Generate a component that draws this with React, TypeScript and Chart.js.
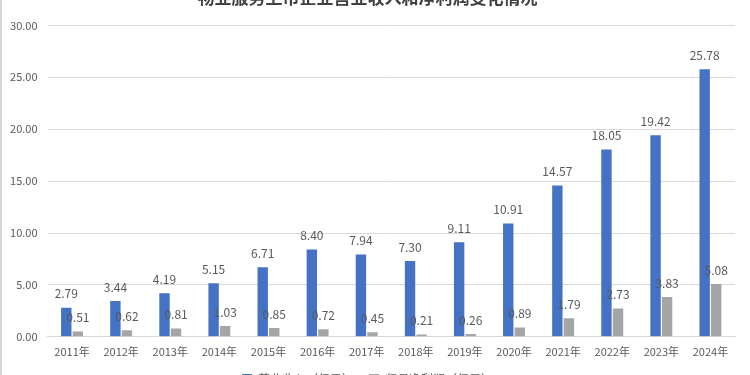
import React, { useEffect, useRef } from "react";
import { Chart, registerables } from "chart.js";

Chart.register(...registerables);

const years = [
  "2011年", "2012年", "2013年", "2014年", "2015年", "2016年", "2017年",
  "2018年", "2019年", "2020年", "2021年", "2022年", "2023年", "2024年",
];
const revenue = [2.79, 3.44, 4.19, 5.15, 6.71, 8.4, 7.94, 7.3, 9.11, 10.91, 14.57, 18.05, 19.42, 25.78];
const profit = [0.51, 0.62, 0.81, 1.03, 0.85, 0.72, 0.45, 0.21, 0.26, 0.89, 1.79, 2.73, 3.83, 5.08];
const yMin = 0;
const yMax = 30;
const yStep = 5;
const titleText = "物业服务上市企业营业收入和净利润变化情况";
const seriesNames = ["营业收入（亿元）", "归母净利润（亿元）"];

const FONT = "'Noto Sans CJK SC', 'Noto Sans', sans-serif";
const TEXT = "#595959";
const H = 424;

const valueLabels = {
  id: "valueLabels",
  afterDatasetsDraw(chart: any) {
    const ctx = chart.ctx;
    ctx.save();
    ctx.font = `12px ${FONT}`;
    ctx.fillStyle = TEXT;
    ctx.textAlign = "center";
    ctx.textBaseline = "middle";
    chart.data.datasets.forEach((ds: any, i: number) => {
      const meta = chart.getDatasetMeta(i);
      meta.data.forEach((el: any, j: number) => {
        const v = ds.data[j] as number;
        ctx.fillText(v.toFixed(2), el.x, el.y - 14);
      });
    });
    ctx.restore();
  },
};

export default function App() {
  const ref = useRef<HTMLCanvasElement | null>(null);
  useEffect(() => {
    if (!ref.current) return;
    const chart = new Chart(ref.current, {
      type: "bar",
      data: {
        labels: years,
        datasets: [
          {
            label: seriesNames[0],
            data: revenue,
            backgroundColor: "#4472C4",
            categoryPercentage: 0.47,
            barPercentage: 0.9,
          },
          {
            label: seriesNames[1],
            data: profit,
            backgroundColor: "#A5A5A5",
            categoryPercentage: 0.47,
            barPercentage: 0.9,
          },
        ],
      },
      options: {
        responsive: false,
        animation: false,
        devicePixelRatio: 1,
        layout: { padding: { left: 0, right: 15, top: 6, bottom: 2 } },
        plugins: {
          title: {
            display: true,
            text: titleText,
            color: "#404040",
            font: { family: FONT, size: 17, weight: "bold" },
            padding: { top: 8, bottom: 18 },
          },
          legend: {
            display: true,
            position: "bottom",
            labels: {
              color: TEXT,
              font: { family: FONT, size: 12 },
              boxWidth: 10,
              boxHeight: 10,
              padding: 15,
            },
          },
          tooltip: { enabled: false },
        },
        scales: {
          x: {
            grid: { display: false },
            border: { display: true, color: "#D9D9D9" },
            ticks: {
              color: TEXT,
              font: { family: FONT, size: 11 },
              padding: 0,
              maxRotation: 0,
              autoSkip: false,
            },
          },
          y: {
            min: yMin,
            max: yMax,
            grid: { color: "#D9D9D9", drawTicks: false },
            border: { display: false },
            ticks: {
              stepSize: yStep,
              color: TEXT,
              font: { family: FONT, size: 11 },
              padding: 10,
              callback: (v: any) => Number(v).toFixed(2),
            },
            afterFit: (scale: any) => {
              scale.width = 47.5;
            },
          },
        },
      },
      plugins: [valueLabels],
    });
    return () => chart.destroy();
  }, []);
  return (
    <div
      style={{
        position: "absolute",
        left: 0,
        top: -27,
        width: 750,
        height: H,
        overflow: "hidden",
        background: "#fff",
      }}
    >
      <canvas ref={ref} width={750} height={H} style={{ display: "block" }} />
      <div
        style={{
          position: "absolute",
          left: 0,
          top: 0,
          width: 2,
          height: H,
          background: "#D6D6D6",
        }}
      />
    </div>
  );
}
